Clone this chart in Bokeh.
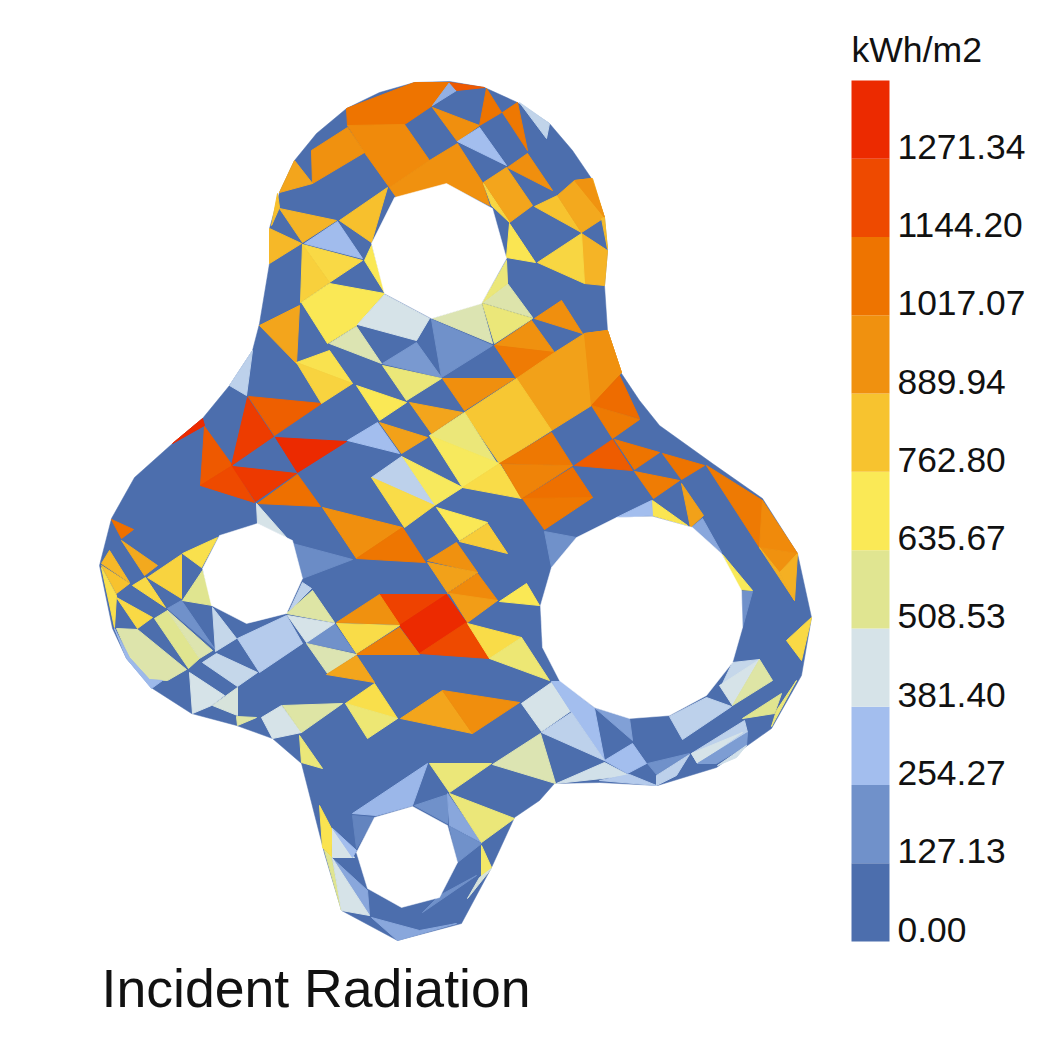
from bokeh.plotting import figure
from bokeh.models import Range1d
from bokeh.core.properties import value
from bokeh.embed import file_html
from bokeh.resources import INLINE
import numpy as np

title_text = "Incident Radiation"
unit_text = "kWh/m2"
tick_values = [0.00, 127.13, 254.27, 381.40, 508.53, 635.67, 762.80, 889.94, 1017.07, 1144.20, 1271.34]
top_value = 1398.47
band_colors = ["#4C6EAD", "#7091CA", "#A3BEEE", "#D6E3E8", "#E0E591", "#FAE956",
               "#F7C32F", "#F0910F", "#EE7400", "#EE4A00", "#EC2A00"]

outline = [(347,108),(380,92),(415,82),(450,81),(485,87),(518,102),(550,123),(573,150),(592,178),(605,217),(608,250),
           (605,285),(608,330),(622,373),(640,400),(660,425),(713,463),(763,498),(798,553),(812,617),(802,675),
           (772,728),(717,767),(658,785),(600,782),(555,783),(540,800),(515,817),(492,867),(462,923),(398,940),
           (342,910),(325,853),(302,763),(273,738),(237,725),(192,713),(153,688),(127,658),(113,628),(100,565),
           (112,518),(135,477),(173,443),(203,418),(230,385),(253,350),(260,323),(270,263),(270,228),(280,192),
           (295,160),(317,133)]
hole_top = [(447,183),(493,208),(507,258),(482,303),(432,318),(385,293),(372,243),(395,197)]
hole_left = [(258,523),(293,540),(303,578),(287,613),(247,623),(212,605),(203,568),(220,535)]
hole_right = [(653,516),(693,527),(722,553),(742,590),(743,627),(733,662),(707,695),(670,715),(630,718),
              (595,707),(560,680),(543,647),(541,605),(552,567),(577,537),(617,517)]
hole_bottom = [(413,806),(448,825),(458,862),(440,897),(402,907),(368,888),(357,852),(375,817)]

# each mesh face: its radiation value, then its outline
mesh_faces = [
 (1017,[(347,108),(415,82),(450,82),(433,105),(405,124),(348,125)]),
 (215,[(450,82),(457,90),(433,105)]),
 (1100,[(450,82),(485,87),(457,90)]),
 (920,[(348,125),(405,124),(430,160),(390,187),(365,152)]),
 (890,[(312,150),(348,127),(365,152),(313,183)]),
 (890,[(390,187),(430,160),(458,143),(483,182),(490,205),(447,183),(397,197)]),
 (900,[(433,107),(480,125),(458,141)]),
 (254,[(458,141),(480,127),(507,165)]),
 (1017,[(487,88),(502,112),(480,125)]),
 (1000,[(503,112),(518,102),(528,150)]),
 (330,[(520,102),(550,123),(547,138)]),
 (900,[(508,167),(528,153),(553,190)]),
 (840,[(484,182),(507,167),(533,205),(510,222)]),
 (700,[(484,183),(510,222),(492,205)]),
 (763,[(535,206),(558,195),(582,232)]),
 (830,[(558,195),(575,180),(593,178),(605,217),(582,232)]),
 (885,[(575,180),(592,178),(605,217)]),
 (780,[(602,218),(605,217),(608,248)]),
 (800,[(582,233),(608,250),(605,285),(585,283)]),
 (700,[(538,262),(582,233),(585,283)]),
 (650,[(510,223),(536,262),(507,257)]),
 (840,[(295,160),(313,183),(280,192)]),
 (800,[(280,208),(337,220),(303,242)]),
 (770,[(278,193),(280,207),(272,225)]),
 (790,[(270,228),(302,243),(270,263)]),
 (770,[(340,220),(388,187),(372,242)]),
 (250,[(305,243),(338,221),(363,258)]),
 (690,[(303,244),(363,260),(330,282)]),
 (720,[(303,244),(330,282),(301,302)]),
 (640,[(372,245),(385,292),(365,260)]),
 (640,[(302,302),(330,283),(385,293),(357,325),(328,343)]),
 (840,[(260,325),(300,305),(297,363)]),
 (381,[(385,294),(430,318),(417,340),(358,324)]),
 (460,[(330,343),(357,326),(382,363)]),
 (460,[(433,318),(482,303),(493,343)]),
 (470,[(483,302),(508,283),(533,317)]),
 (560,[(483,303),(533,318),(495,343)]),
 (560,[(483,302),(507,260),(508,283)]),
 (127,[(432,319),(493,345),(442,377)]),
 (150,[(383,363),(417,342),(442,377)]),
 (890,[(495,345),(532,320),(555,352)]),
 (985,[(495,345),(555,352),(517,378)]),
 (900,[(535,318),(562,300),(583,333)]),
 (850,[(517,378),(555,352),(585,333),(608,330),(622,372),(592,405),(552,430)]),
 (890,[(585,333),(608,330),(622,372),(592,405)]),
 (1040,[(592,405),(620,375),(640,418)]),
 (990,[(592,405),(640,419),(613,438)]),
 (1090,[(575,465),(613,439),(633,470)]),
 (1017,[(615,439),(660,452),(635,469)]),
 (1017,[(663,453),(705,465),(682,479)]),
 (980,[(635,471),(680,480),(654,498)]),
 (850,[(682,483),(704,515),(691,527)]),
 (990,[(707,465),(763,500),(760,547)]),
 (920,[(763,500),(798,553),(760,547)]),
 (890,[(760,547),(798,553),(780,572)]),
 (810,[(760,547),(780,572),(795,600)]),
 (810,[(798,553),(795,600),(780,572)]),
 (690,[(787,640),(812,617),(802,660)]),
 (650,[(653,500),(688,525),(653,515)]),
 (254,[(617,517),(652,500),(653,515)]),
 (190,[(692,527),(703,518),(722,552)]),
 (630,[(723,554),(753,590),(740,589)]),
 (127,[(742,591),(753,591),(743,627)]),
 (127,[(545,531),(577,537),(552,567)]),
 (750,[(465,412),(517,378),(552,430),(500,463)]),
 (560,[(430,435),(465,412),(497,462)]),
 (620,[(430,435),(500,463),(463,487)]),
 (680,[(463,487),(500,463),(522,498)]),
 (1000,[(500,463),(552,432),(573,465)]),
 (950,[(502,464),(573,465),(522,498)]),
 (1030,[(523,498),(573,467),(593,497)]),
 (1000,[(523,498),(593,497),(545,529)]),
 (900,[(443,378),(515,378),(465,410)]),
 (840,[(410,402),(463,412),(432,433)]),
 (850,[(380,422),(428,437),(402,453)]),
 (620,[(402,456),(463,487),(435,505)]),
 (320,[(372,477),(402,456),(435,505)]),
 (680,[(372,477),(435,505),(405,527)]),
 (640,[(437,507),(488,522),(460,540)]),
 (730,[(460,541),(488,523),(508,553)]),
 (890,[(428,560),(457,542),(478,572)]),
 (850,[(428,562),(478,572),(448,592)]),
 (920,[(448,593),(478,573),(498,600)]),
 (860,[(450,593),(498,600),(468,622)]),
 (1175,[(380,594),(447,594),(400,625)]),
 (1271,[(400,625),(447,594),(467,622),(420,653)]),
 (1144,[(420,653),(467,622),(490,658)]),
 (890,[(337,622),(380,594),(400,624)]),
 (680,[(337,623),(400,625),(357,653)]),
 (970,[(357,654),(400,627),(420,654)]),
 (680,[(468,623),(522,637),(490,658)]),
 (570,[(490,658),(522,637),(550,680)]),
 (640,[(500,601),(527,583),(540,605)]),
 (127,[(307,642),(335,623),(355,652)]),
 (460,[(307,643),(357,654),(328,673)]),
 (840,[(327,674),(357,655),(375,682)]),
 (670,[(346,703),(375,683),(398,718)]),
 (570,[(346,703),(398,718),(368,738)]),
 (840,[(401,718),(443,690),(473,733)]),
 (905,[(443,690),(520,702),(473,733)]),
 (381,[(522,703),(552,682),(572,710),(542,731)]),
 (254,[(552,681),(562,681),(595,708),(605,760),(572,712)]),
 (320,[(542,732),(572,712),(605,760)]),
 (170,[(596,708),(630,718),(633,740)]),
 (460,[(493,764),(541,733),(556,783)]),
 (370,[(557,783),(605,762),(630,775)]),
 (300,[(600,780),(657,785),(630,774)]),
 (254,[(605,760),(633,743),(647,763),(628,773)]),
 (127,[(648,763),(690,753),(657,774)]),
 (320,[(657,775),(690,754),(677,775),(657,785)]),
 (320,[(692,753),(745,720),(748,732),(698,763)]),
 (381,[(692,753),(743,732),(698,763)]),
 (160,[(698,763),(748,732),(747,745),(717,763)]),
 (370,[(718,765),(747,745),(737,757)]),
 (320,[(670,716),(707,697),(732,706),(683,739)]),
 (340,[(722,685),(733,662),(760,659)]),
 (381,[(720,685),(760,659),(733,705)]),
 (480,[(733,705),(760,659),(773,680)]),
 (510,[(743,718),(782,693),(775,713)]),
 (560,[(772,726),(797,680),(777,710)]),
 (1271,[(173,443),(203,418),(205,425)]),
 (1100,[(205,426),(233,465),(201,485)]),
 (1144,[(233,465),(255,502),(201,485)]),
 (1200,[(248,397),(274,436),(232,465)]),
 (1080,[(249,396),(322,403),(275,435)]),
 (1271,[(276,437),(347,441),(298,472)]),
 (1210,[(233,466),(297,473),(256,501)]),
 (1030,[(258,503),(298,474),(321,506)]),
 (900,[(323,507),(403,527),(357,558)]),
 (1010,[(357,558),(403,527),(426,562)]),
 (381,[(257,503),(287,537),(258,523)]),
 (110,[(293,543),(353,559),(303,578)]),
 (660,[(297,362),(330,350),(353,383)]),
 (710,[(297,362),(353,383),(322,403)]),
 (560,[(383,365),(442,378),(407,400)]),
 (640,[(357,385),(407,402),(380,420)]),
 (254,[(348,440),(378,422),(400,453)]),
 (320,[(230,385),(253,350),(247,395)]),
 (1030,[(112,519),(134,529),(122,538)]),
 (830,[(122,540),(158,565),(145,575)]),
 (790,[(102,563),(110,550),(130,582)]),
 (765,[(102,565),(130,583),(117,593)]),
 (665,[(102,567),(117,595),(115,627)]),
 (690,[(133,585),(146,577),(166,607)]),
 (710,[(148,577),(182,554),(182,598)]),
 (665,[(183,553),(218,537),(202,567)]),
 (510,[(183,600),(203,570),(213,605)]),
 (690,[(117,597),(153,617),(138,628)]),
 (470,[(117,628),(138,629),(187,669),(168,680),(150,679),(130,657)]),
 (240,[(115,628),(130,657),(150,679),(163,680),(152,688),(127,658)]),
 (510,[(155,618),(168,610),(200,658),(189,668)]),
 (465,[(168,610),(213,650),(200,658)]),
 (127,[(168,608),(182,600),(215,648)]),
 (340,[(213,607),(237,638),(216,651)]),
 (300,[(238,638),(287,615),(303,643),(260,672)]),
 (480,[(287,613),(313,590),(335,622)]),
 (320,[(303,582),(312,588),(290,610)]),
 (381,[(288,615),(335,623),(307,642)]),
 (381,[(190,672),(225,695),(212,705),(193,713)]),
 (400,[(213,705),(238,687),(238,715)]),
 (340,[(203,662),(217,653),(258,672),(238,686)]),
 (480,[(237,716),(257,717),(238,725)]),
 (381,[(262,717),(282,705),(302,732),(273,738)]),
 (480,[(283,705),(343,703),(302,732)]),
 (560,[(300,735),(323,768),(302,762)]),
 (560,[(430,763),(492,763),(450,792)]),
 (235,[(353,813),(428,763),(413,805),(377,815)]),
 (80,[(353,815),(375,817),(357,848)]),
 (127,[(415,805),(448,794),(448,823)]),
 (190,[(448,793),(482,842),(450,825)]),
 (127,[(450,826),(482,843),(458,862)]),
 (560,[(450,793),(515,818),(482,842)]),
 (600,[(482,845),(492,867),(482,877)]),
 (400,[(492,868),(468,898),(480,877)]),
 (127,[(423,912),(477,875),(440,895)]),
 (655,[(320,805),(333,830),(332,857),(323,847)]),
 (381,[(333,828),(355,857),(333,857)]),
 (254,[(333,828),(357,850),(353,857)]),
 (510,[(325,850),(342,910),(332,857)]),
 (190,[(333,858),(368,890),(370,915)]),
 (381,[(333,858),(370,915),(342,910)]),
 (190,[(372,917),(420,930),(457,923),(398,940)]),
]

def to_rgb(h):
    return [int(h[i:i+2], 16) for i in (1, 3, 5)]

stops = np.array([to_rgb(c) for c in band_colors], dtype=float)
def color_of(v):
    rgb = [np.interp(v, tick_values, stops[:, k]) for k in range(3)]
    return "#%02X%02X%02X" % tuple(int(round(c)) for c in rgb)

WIDTH, HEIGHT = 1042, 1040
p = figure(width=WIDTH, height=HEIGHT, output_backend="svg", toolbar_location=None,
           x_range=Range1d(1, WIDTH + 1), y_range=Range1d(HEIGHT, 0),
           min_border=0, outline_line_color=None)
p.axis.visible = False
p.grid.visible = False
p.background_fill_color = "white"

# colour key shares the picture's height through its own value scale
scale = top_value / (941 - 80)
p.extra_y_ranges = {"key": Range1d(start=(941 - HEIGHT) * scale, end=941 * scale)}

xy = lambda pts: ([a for a, _ in pts], [b for _, b in pts])

ox, oy = xy(outline)
p.patch(ox, oy, fill_color=band_colors[0], line_color=band_colors[0], line_width=0.5)

face_xs = [xy(f[1])[0] for f in mesh_faces]
face_ys = [xy(f[1])[1] for f in mesh_faces]
face_colors = [color_of(f[0]) for f in mesh_faces]
p.patches(face_xs, face_ys, fill_color=face_colors, line_color=face_colors, line_width=1)

holes = [hole_top, hole_left, hole_right, hole_bottom]
p.patches([xy(h)[0] for h in holes], [xy(h)[1] for h in holes], fill_color="white", line_color="white", line_width=0.5)

edges = tick_values + [top_value]
p.quad(left=852, right=890, bottom=edges[:-1], top=edges[1:], fill_color=band_colors,
       line_color=None, y_range_name="key")
p.text(x=[898] * len(tick_values), y=tick_values, text=["%.2f" % v for v in tick_values],
       text_font=value("Liberation Sans"), text_font_size="35.4px", text_color="#111111",
       text_baseline="middle", y_offset=-12, y_range_name="key")
p.text(x=[852], y=[49], text=[unit_text], text_font=value("Liberation Sans"), text_font_size="35.6px",
       text_color="#111111", text_baseline="middle")
p.text(x=[102], y=[987], text=[title_text], text_font=value("Liberation Sans"), text_font_size="53.6px",
       text_color="#111111", text_baseline="middle")

open("out.html", "w").write(file_html(p, INLINE))
